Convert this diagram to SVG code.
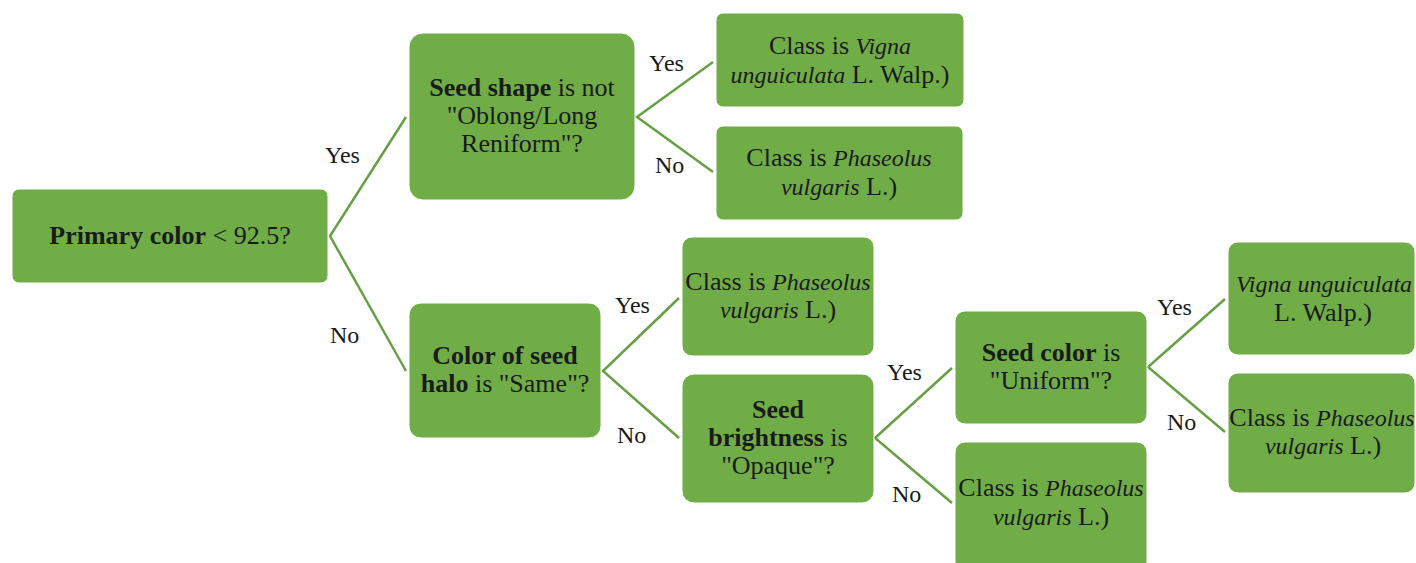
<svg xmlns="http://www.w3.org/2000/svg" width="1416" height="563" viewBox="0 0 1416 563" font-family="Liberation Serif, Times New Roman, serif">
<style>
.box{fill:#70AD47;stroke:#ffffff;stroke-width:1}
.t{font-size:26px;fill:#1a1a1a;text-anchor:middle}
.l{font-size:24px;fill:#1a1a1a;text-anchor:start}
.b{font-weight:bold}
.i{font-style:italic;font-size:24px}
.c{fill:none;stroke:#67A044;stroke-width:2.5}
</style>
<rect width="1416" height="563" fill="#ffffff"/>
<g id="connectors">
<polyline class="c" points="406,117 330,236 406,371"/>
<polyline class="c" points="713,62 637,117 713,172"/>
<polyline class="c" points="679,298 603,371 679,438"/>
<polyline class="c" points="952,368 875,438 952,503"/>
<polyline class="c" points="1225,299 1148,367 1225,432"/>
<text class="l" x="325" y="163">Yes</text>
<text class="l" x="330" y="343">No</text>
<text class="l" x="649" y="71">Yes</text>
<text class="l" x="655" y="173">No</text>
<text class="l" x="615" y="313">Yes</text>
<text class="l" x="617" y="443">No</text>
<text class="l" x="887" y="380">Yes</text>
<text class="l" x="892" y="502">No</text>
<text class="l" x="1157" y="315">Yes</text>
<text class="l" x="1167" y="430">No</text>
</g>
<g id="root">
<rect class="box" x="12" y="189" width="316" height="94" rx="7"/>
<text class="t" x="170" y="244"><tspan class="b">Primary color</tspan> &lt; 92.5?</text>
</g>
<g id="seed-shape">
<rect class="box" x="409" y="33" width="226" height="167" rx="14"/>
<text class="t" x="522" y="96"><tspan class="b">Seed shape</tspan> is not</text>
<text class="t" x="522" y="124">"Oblong/Long</text>
<text class="t" x="522" y="152">Reniform"?</text>
</g>
<g id="leaf-vigna-1">
<rect class="box" x="716" y="13" width="248" height="94" rx="7"/>
<text class="t" x="840" y="54">Class is <tspan class="i">Vigna</tspan></text>
<text class="t" x="840" y="83"><tspan class="i">unguiculata</tspan> L. Walp.)</text>
</g>
<g id="leaf-phaseolus-1">
<rect class="box" x="716" y="126" width="247" height="94" rx="7"/>
<text class="t" x="839" y="166">Class is <tspan class="i">Phaseolus</tspan></text>
<text class="t" x="839" y="195"><tspan class="i">vulgaris</tspan> L.)</text>
</g>
<g id="seed-halo">
<rect class="box" x="409" y="303" width="192" height="135" rx="12"/>
<text class="t" x="505" y="364" font-weight="bold">Color of seed</text>
<text class="t" x="505" y="392"><tspan class="b">halo</tspan> is "Same"?</text>
</g>
<g id="leaf-phaseolus-2">
<rect class="box" x="682" y="237" width="192" height="119" rx="10"/>
<text class="t" x="778" y="290">Class is <tspan class="i">Phaseolus</tspan></text>
<text class="t" x="778" y="318"><tspan class="i">vulgaris</tspan> L.)</text>
</g>
<g id="seed-brightness">
<rect class="box" x="682" y="374" width="192" height="129" rx="12"/>
<text class="t" x="778" y="418" font-weight="bold">Seed</text>
<text class="t" x="778" y="446"><tspan class="b">brightness</tspan> is</text>
<text class="t" x="778" y="474">"Opaque"?</text>
</g>
<g id="seed-color">
<rect class="box" x="955" y="311" width="192" height="113" rx="10"/>
<text class="t" x="1051" y="361"><tspan class="b">Seed color</tspan> is</text>
<text class="t" x="1051" y="389">"Uniform"?</text>
</g>
<g id="leaf-phaseolus-3">
<rect class="box" x="955" y="442" width="192" height="130" rx="10"/>
<text class="t" x="1051" y="496">Class is <tspan class="i">Phaseolus</tspan></text>
<text class="t" x="1051" y="525"><tspan class="i">vulgaris</tspan> L.)</text>
</g>
<g id="leaf-vigna-2">
<rect class="box" x="1228" y="242" width="187" height="113" rx="10"/>
<text class="t" x="1324" y="292"><tspan class="i">Vigna unguiculata</tspan></text>
<text class="t" x="1323" y="321">L. Walp.)</text>
</g>
<g id="leaf-phaseolus-4">
<rect class="box" x="1228" y="373" width="187" height="120" rx="10"/>
<text class="t" x="1322" y="426">Class is <tspan class="i">Phaseolus</tspan></text>
<text class="t" x="1323" y="454"><tspan class="i">vulgaris</tspan> L.)</text>
</g>
</svg>
